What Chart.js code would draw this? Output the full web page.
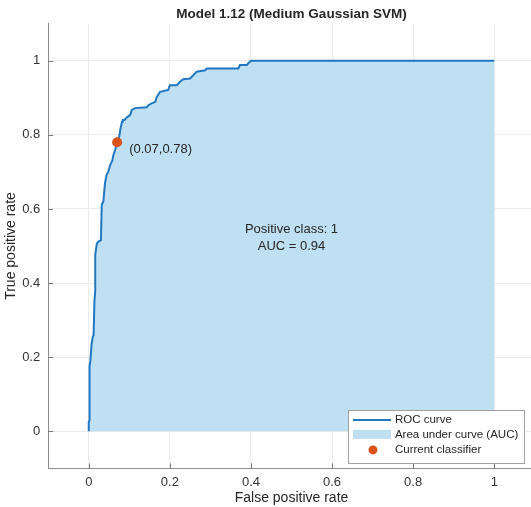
<!DOCTYPE html>
<html>
<head>
<meta charset="utf-8">
<script src="https://cdn.jsdelivr.net/npm/chart.js@4/dist/chart.umd.min.js"></script>
<style>
  html, body { margin: 0; padding: 0; background: #fff; overflow: hidden; }
  #wrap { width: 540px; height: 507px; }
</style>
</head>
<body>
<div id="wrap"><canvas id="chartRoc" width="540" height="507"></canvas></div>
<script>
// ROC curve (false positive rate / true positive rate)
const fpr = [0, 0, 0.002, 0.002, 0.004, 0.007, 0.01, 0.012, 0.014, 0.016, 0.016, 0.02, 0.024, 0.03,
  0.032, 0.036, 0.04, 0.044, 0.048, 0.053, 0.058, 0.061, 0.065, 0.07, 0.075, 0.078, 0.082, 0.084,
  0.088, 0.094, 0.102, 0.106, 0.114, 0.143, 0.147, 0.155, 0.164, 0.168, 0.176, 0.196, 0.2, 0.217,
  0.225, 0.233, 0.25, 0.258, 0.266, 0.287, 0.291, 0.369, 0.373, 0.39, 0.394, 0.4, 1];
const tpr = [0, 0.025, 0.03, 0.175, 0.19, 0.235, 0.255, 0.26, 0.35, 0.38, 0.476, 0.507, 0.512, 0.516,
  0.611, 0.62, 0.669, 0.692, 0.7, 0.719, 0.73, 0.746, 0.759, 0.78, 0.795, 0.815, 0.835, 0.84,
  0.84, 0.847, 0.853, 0.867, 0.872, 0.874, 0.88, 0.885, 0.889, 0.903, 0.916, 0.921, 0.934, 0.934,
  0.943, 0.95, 0.952, 0.961, 0.97, 0.974, 0.979, 0.979, 0.988, 0.988, 0.994, 1, 1];

const currentClassifier = [0.07, 0.78];
const tickValues = [0, 0.2, 0.4, 0.6, 0.8, 1];
const legendLabels = ["ROC curve", "Area under curve (AUC)", "Current classifier"];
const titleText = "Model 1.12 (Medium Gaussian SVM)";
const infoLines = ["Positive class: 1", "AUC = 0.94"];
const pointLabel = "(0.07,0.78)";

const lineColor = "#1f78c1";
const areaColor = "#bfdff2";
const dotColor = "#d95319";
const textColor = "#262626";
const fontFamily = "'Liberation Sans', Arial, Helvetica, sans-serif";

// MATLAB-like extras: inward ticks, text annotations, legend box
const matlabExtras = {
  id: "matlabExtras",
  afterDraw(chart) {
    const { ctx, chartArea: a, scales } = chart;
    const xs = scales.x, ys = scales.y;
    ctx.save();

    // inward tick marks
    ctx.strokeStyle = "#7a7a7a";
    ctx.lineWidth = 1;
    ctx.beginPath();
    tickValues.forEach((v) => {
      const px = Math.round(xs.getPixelForValue(v)) + 0.5;
      ctx.moveTo(px, a.bottom);
      ctx.lineTo(px, a.bottom - 5);
      const py = Math.round(ys.getPixelForValue(v)) + 0.5;
      ctx.moveTo(a.left, py);
      ctx.lineTo(a.left + 5, py);
    });
    ctx.stroke();

    // annotations
    ctx.fillStyle = textColor;
    ctx.font = "13px " + fontFamily;
    ctx.textBaseline = "middle";
    ctx.textAlign = "left";
    ctx.fillText(pointLabel,
      xs.getPixelForValue(currentClassifier[0]) + 12,
      ys.getPixelForValue(currentClassifier[1]) + 7);

    ctx.textAlign = "center";
    const cx = xs.getPixelForValue(0.5);
    const cy = ys.getPixelForValue(0.522);
    ctx.fillText(infoLines[0], cx, cy - 8.5);
    ctx.fillText(infoLines[1], cx, cy + 8.5);

    // legend
    ctx.font = "11.5px " + fontFamily;
    const maxW = Math.max(...legendLabels.map((t) => ctx.measureText(t).width));
    const boxR = a.right - 10.5;
    const boxL = boxR - (47 + maxW + 6);
    const boxB = a.bottom - 5.5;
    const boxT = boxB - 52.5;
    ctx.fillStyle = "#ffffff";
    ctx.fillRect(boxL, boxT, boxR - boxL, boxB - boxT);
    ctx.strokeStyle = "#a0a0a0";
    ctx.strokeRect(Math.round(boxL) + 0.5, Math.round(boxT) + 0.5, Math.round(boxR - boxL), Math.round(boxB - boxT));

    const rows = [boxT + 9.5, boxT + 24, boxT + 39.5];
    ctx.strokeStyle = lineColor;
    ctx.lineWidth = 2;
    ctx.beginPath();
    ctx.moveTo(boxL + 5, rows[0]);
    ctx.lineTo(boxL + 43, rows[0]);
    ctx.stroke();
    ctx.fillStyle = areaColor;
    ctx.fillRect(boxL + 5, rows[1] - 4.5, 38, 9);
    ctx.fillStyle = dotColor;
    ctx.beginPath();
    ctx.arc(boxL + 25, rows[2], 4.5, 0, Math.PI * 2);
    ctx.fill();

    ctx.fillStyle = textColor;
    ctx.textAlign = "left";
    legendLabels.forEach((t, i) => ctx.fillText(t, boxL + 47, rows[i]));
    ctx.restore();
  },
};

const ctxRoc = document.getElementById("chartRoc").getContext("2d");

const dataCtxRoc = {
  datasets: [
    {
      label: legendLabels[2],
      data: [{ x: currentClassifier[0], y: currentClassifier[1] }],
      showLine: false,
      pointRadius: 5,
      pointBackgroundColor: dotColor,
      pointBorderWidth: 0,
    },
    {
      label: legendLabels[0],
      data: fpr.map((x, i) => ({ x: x, y: tpr[i] })),
      borderColor: lineColor,
      borderWidth: 2,
      backgroundColor: areaColor,
      fill: "origin",
      pointRadius: 0,
      tension: 0,
    },
  ],
};

const setTicks = (scale) => {
  scale.ticks = tickValues.map((v) => ({ value: v }));
};

const tickLabel = (v) => String(v);

const optionsCtxRoc = {
  responsive: false,
  animation: false,
  layout: {
    padding: { top: 0, right: 5.2, bottom: 0, left: 0 },
  },
  scales: {
    x: {
      type: "linear",
      min: -0.1,
      max: 1.1,
      afterBuildTicks: setTicks,
      afterFit: (s) => { s.height = 38.6; },
      grid: { color: "#ebebeb", drawTicks: false },
      border: { color: "#8c8c8c", width: 1 },
      ticks: {
        padding: 6,
        color: "#333333",
        font: { family: fontFamily, size: 13 },
        callback: tickLabel,
      },
      title: {
        display: true,
        text: "False positive rate",
        color: textColor,
        font: { family: fontFamily, size: 14 },
        padding: { top: 0, bottom: 0 },
      },
    },
    y: {
      type: "linear",
      min: -0.1,
      max: 1.1,
      afterBuildTicks: setTicks,
      afterFit: (s) => { s.width = 48.2; },
      grid: { color: "#ebebeb", drawTicks: false },
      border: { color: "#8c8c8c", width: 1 },
      ticks: {
        padding: 8,
        color: "#333333",
        font: { family: fontFamily, size: 13 },
        callback: tickLabel,
      },
      title: {
        display: true,
        text: "True positive rate",
        color: textColor,
        font: { family: fontFamily, size: 14 },
        padding: { top: 3, bottom: 0 },
      },
    },
  },
  plugins: {
    legend: { display: false },
    tooltip: { enabled: false },
    title: {
      display: true,
      fullSize: false,
      text: titleText,
      color: textColor,
      font: { family: fontFamily, size: 13.5, weight: "bold" },
      padding: { top: 6.5, bottom: 0.9 },
    },
  },
};

new Chart(ctxRoc, {
  type: "line",
  data: dataCtxRoc,
  options: optionsCtxRoc,
  plugins: [matlabExtras],
});
</script>
</body>
</html>
